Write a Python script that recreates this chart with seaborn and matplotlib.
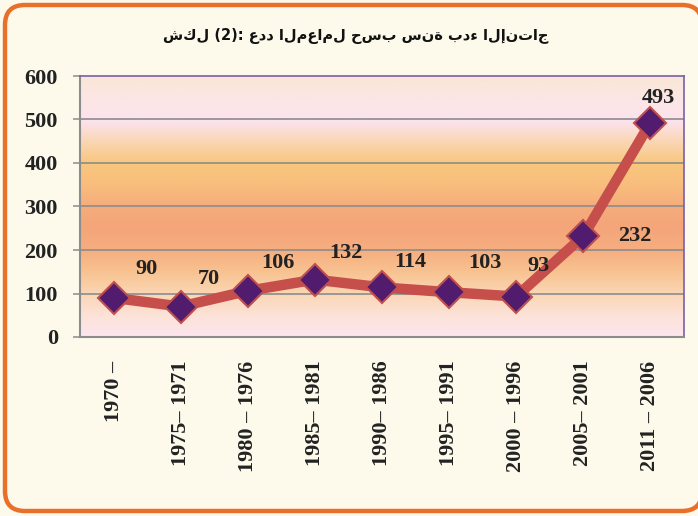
import numpy as np
import pandas as pd
import matplotlib
matplotlib.use("Agg")
import matplotlib.pyplot as plt
import seaborn as sns
from matplotlib.colors import LinearSegmentedColormap
from matplotlib.patches import FancyBboxPatch

# ---------------- data ----------------
periods = ["1970 \u2013", "1975\u2013 1971", "1980 \u2013 1976", "1985\u2013 1981",
           "1990\u2013 1986", "1995\u2013 1991", "2000 \u2013 1996", "2005\u2013 2001",
           "2011 \u2013 2006"]
factories = [90, 70, 106, 132, 114, 103, 93, 232, 493]
y_ticks = [0, 100, 200, 300, 400, 500, 600]
title_text = "شكل (2): عدد المعامل حسب سنة بدء الإنتاج"

# label offsets (points) per point - style only
label_offsets = [(24, 21), (20, 20), (22, 20), (22, 19), (20, 18), (26, 21), (16, 22), (37, 0), (6, 18)]

# words kept in left-to-right order as in the reference (LRM between words)
LRM = "\u200E"
title_display = LRM + (" " + LRM).join(w + LRM for w in title_text.split(" "))

# ---------------- figure ----------------
sns.set_theme(style="white")
plt.rcParams['font.family'] = ['Liberation Serif', 'DejaVu Serif']

W, H, DPI = 6.98, 5.16, 100
fig = plt.figure(figsize=(W, H), dpi=DPI)
fig.patch.set_facecolor('#FDFAEC')

# rounded orange frame
frame = FancyBboxPatch((0.05, 0.05), 6.97, 5.06,
                       boxstyle="round,pad=0,rounding_size=0.2",
                       transform=fig.dpi_scale_trans, facecolor='#FDFAEC',
                       edgecolor='#E8702A', linewidth=3.2, zorder=0)
fig.patches.append(frame)

rect = [80 / 698, 1 - 337 / 516, (684 - 80) / 698, (337 - 76) / 516]

# gradient background
bg = fig.add_axes(rect, zorder=1)
stops = [(0.0, '#FCE6EE'), (0.08, '#FCE2D8'), (0.17, '#FAD5B2'), (0.25, '#F8C290'),
         (0.33, '#F6AE80'), (0.42, '#F4A57A'), (0.5, '#F5AC7C'), (0.58, '#F8BD7C'),
         (0.67, '#F9C77E'), (0.75, '#FAD6B4'), (0.83, '#FCE3EE'), (0.92, '#FCE6E4'),
         (1.0, '#F9E6D6')]
cmap = LinearSegmentedColormap.from_list('bg', stops)
grad = np.linspace(0, 1, 400).reshape(-1, 1)
bg.imshow(grad, aspect='auto', cmap=cmap, origin='lower', extent=[0, 1, 0, 1])
bg.set_axis_off()

ax = fig.add_axes(rect, zorder=2)
ax.set_facecolor('none')

df = pd.DataFrame({"period": periods, "count": factories})
sns.lineplot(data=df, x="period", y="count", ax=ax, sort=False,
             color='#C64F4C', linewidth=7.5, marker='D', markersize=16,
             markerfacecolor='#521C6E', markeredgecolor='#C0504D',
             markeredgewidth=1.5, zorder=5)

ax.set_xlim(-0.5, len(periods) - 0.5)
ax.set_ylim(0, 600)
ax.set_yticks(y_ticks)
ax.set_yticklabels([str(v) for v in y_ticks], fontsize=16, fontweight='bold',
                   color='#222222')
ax.set_xticks(range(len(periods)))
ax.set_xticklabels(periods, rotation=90, fontsize=16, fontweight='bold',
                   color='#222222', va='top', ha='center')
ax.set_xticks(np.arange(-0.5, len(periods), 1.0), minor=True)
ax.tick_params(axis='x', which='major', length=0, pad=17)
ax.tick_params(axis='x', which='minor', length=5, width=1.1, color='#8C8C8C',
               direction='out')
ax.tick_params(axis='y', length=5, width=1.1, color='#8C8C8C', direction='out',
               pad=11, left=True)
ax.set_xlabel('')
ax.set_ylabel('')

for v in y_ticks[1:-1]:
    ax.axhline(v, color='#8C8C8C', linewidth=1.2, zorder=1)

for s in ['left', 'bottom']:
    ax.spines[s].set_color('#8C8C8C')
    ax.spines[s].set_linewidth(1.5)
for s in ['top', 'right']:
    ax.spines[s].set_color('#7A5FA8')
    ax.spines[s].set_linewidth(1.2)
    ax.spines[s].set_visible(True)

for i, (v, off) in enumerate(zip(factories, label_offsets)):
    ax.annotate(str(v), (i, v), xytext=off, textcoords='offset points',
                ha='center', va='center', fontsize=16, fontweight='bold',
                color='#222222', zorder=6)

fig.text(356 / 698, 1 - 36 / 516, title_display, ha='center', va='center',
         fontsize=10.5, fontweight='bold', family=['DejaVu Sans'],
         color='#111111')

fig.savefig('out.png', dpi=DPI, facecolor=fig.get_facecolor())
